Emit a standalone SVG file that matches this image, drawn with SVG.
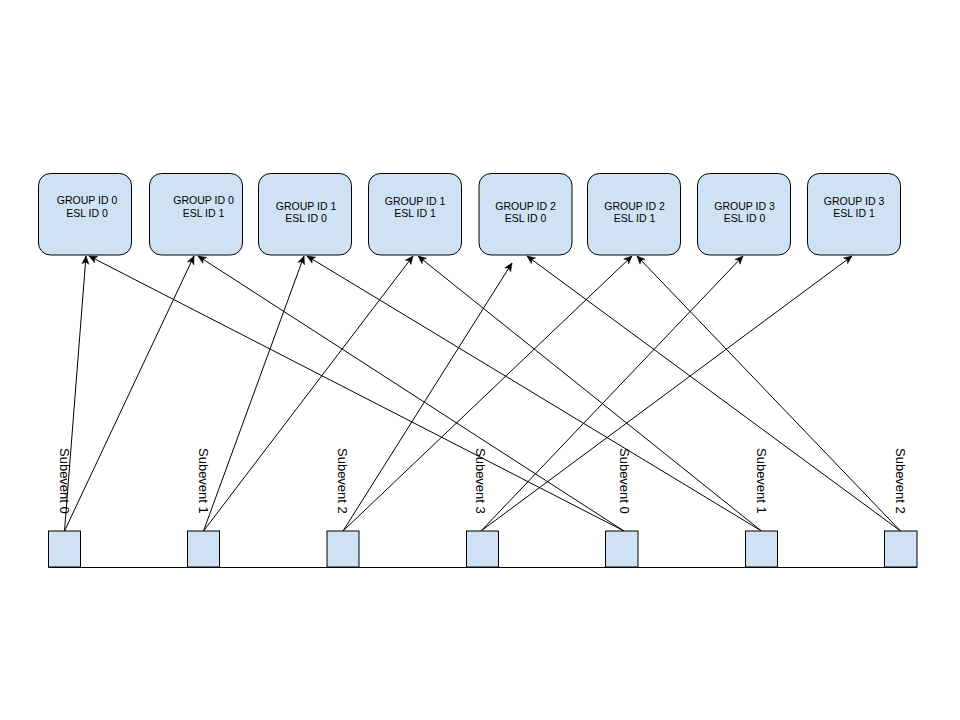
<svg xmlns="http://www.w3.org/2000/svg" width="960" height="720" viewBox="0 0 960 720">
<style>
.box{fill:#cfe2f3;stroke:#000;stroke-width:1}
.sq{fill:#cfe2f3;stroke:#000;stroke-width:1}
.t{font-family:"Liberation Sans",Arial,sans-serif;font-size:10.5px;fill:#000;text-anchor:middle}
.lbl{font-family:"Liberation Sans",Arial,sans-serif;font-size:13px;fill:#000}
.c{stroke:#000;stroke-width:1;fill:none;marker-end:url(#arr)}
</style>
<defs>
<marker id="arr" markerUnits="userSpaceOnUse" markerWidth="10" markerHeight="10" viewBox="0 0 10 10" refX="9" refY="5" orient="auto">
<path d="M1,1.5 L9,5 L1,8.5 L3,5 z" fill="#000" stroke="#000" stroke-width="0.5"/>
</marker>
</defs>
<rect width="960" height="720" fill="#fff"/>
<g id="nodes-top">
<g id="g0e0"><rect class="box" x="38.5" y="173.5" width="93" height="81.5" rx="12"/><text class="t" x="87" y="204.3">GROUP ID 0</text><text class="t" x="87" y="216.6">ESL ID 0</text></g>
<g id="g0e1"><rect class="box" x="149.5" y="173.5" width="93" height="81.5" rx="12"/><text class="t" x="203.5" y="204.3">GROUP ID 0</text><text class="t" x="203.5" y="216.6">ESL ID 1</text></g>
<g id="g1e0"><rect class="box" x="258.5" y="173.5" width="93" height="81.5" rx="12"/><text class="t" x="306" y="209.8">GROUP ID 1</text><text class="t" x="306" y="222.1">ESL ID 0</text></g>
<g id="g1e1"><rect class="box" x="368.5" y="173.5" width="93" height="81.5" rx="12"/><text class="t" x="415" y="204.8">GROUP ID 1</text><text class="t" x="415" y="217.1">ESL ID 1</text></g>
<g id="g2e0"><rect class="box" x="479" y="173.5" width="93" height="81.5" rx="12"/><text class="t" x="525.5" y="209.8">GROUP ID 2</text><text class="t" x="525.5" y="222.1">ESL ID 0</text></g>
<g id="g2e1"><rect class="box" x="587.5" y="173.5" width="93" height="81.5" rx="12"/><text class="t" x="634.5" y="209.8">GROUP ID 2</text><text class="t" x="634.5" y="222.1">ESL ID 1</text></g>
<g id="g3e0"><rect class="box" x="697.5" y="173.5" width="93" height="81.5" rx="12"/><text class="t" x="744.5" y="209.8">GROUP ID 3</text><text class="t" x="744.5" y="222.1">ESL ID 0</text></g>
<g id="g3e1"><rect class="box" x="807.5" y="173.5" width="93" height="81.5" rx="12"/><text class="t" x="854" y="204.8">GROUP ID 3</text><text class="t" x="854" y="217.1">ESL ID 1</text></g>
</g>
<g id="connectors">
<line x1="48.5" y1="567.5" x2="917" y2="567.5" stroke="#000" stroke-width="1.2"/>
<line class="c" x1="64.5" y1="531" x2="86" y2="256"/>
<line class="c" x1="64.5" y1="531" x2="194" y2="256"/>
<line class="c" x1="203.5" y1="531" x2="304" y2="256"/>
<line class="c" x1="203.5" y1="531" x2="413" y2="256"/>
<line class="c" x1="343" y1="531" x2="512" y2="263"/>
<line class="c" x1="343" y1="531" x2="632" y2="256"/>
<line class="c" x1="481" y1="531" x2="743" y2="256"/>
<line class="c" x1="481" y1="531" x2="852" y2="256"/>
<line class="c" x1="624" y1="531" x2="89" y2="256"/>
<line class="c" x1="624" y1="531" x2="198" y2="256"/>
<line class="c" x1="761.5" y1="531" x2="307" y2="256"/>
<line class="c" x1="761.5" y1="531" x2="418" y2="256"/>
<line class="c" x1="900.5" y1="531" x2="527" y2="256"/>
<line class="c" x1="900.5" y1="531" x2="637" y2="256"/>
</g>
<g id="nodes-bottom">
<g id="s0"><rect class="sq" x="48.5" y="531" width="32" height="36"/><text class="lbl" transform="translate(60,448) rotate(90)">Subevent 0</text></g>
<g id="s1"><rect class="sq" x="187.5" y="531" width="32" height="36"/><text class="lbl" transform="translate(199,448) rotate(90)">Subevent 1</text></g>
<g id="s2"><rect class="sq" x="327" y="531" width="32" height="36"/><text class="lbl" transform="translate(338,448) rotate(90)">Subevent 2</text></g>
<g id="s3"><rect class="sq" x="466.5" y="531" width="32" height="36"/><text class="lbl" transform="translate(475.5,448) rotate(90)">Subevent 3</text></g>
<g id="s4"><rect class="sq" x="605.5" y="531" width="32.5" height="36"/><text class="lbl" transform="translate(620,448) rotate(90)">Subevent 0</text></g>
<g id="s5"><rect class="sq" x="745.5" y="531" width="32" height="36"/><text class="lbl" transform="translate(757,448) rotate(90)">Subevent 1</text></g>
<g id="s6"><rect class="sq" x="884.5" y="531" width="32.5" height="36"/><text class="lbl" transform="translate(895.5,448) rotate(90)">Subevent 2</text></g>
</g>
</svg>
